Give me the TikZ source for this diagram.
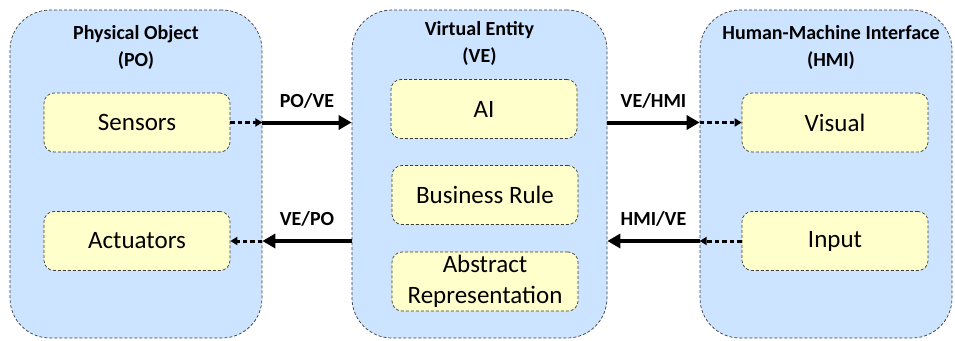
\documentclass[tikz,border=0pt]{standalone}
\usepackage{fontspec}
\setmainfont{Carlito}
\usetikzlibrary{positioning, arrows.meta}
\definecolor{PanelBlue}{RGB}{204, 228, 255}
\definecolor{BlockYellow}{RGB}{255, 255, 204}
\definecolor{EdgeGray}{RGB}{60, 60, 60}

\tikzset{
  panel/.style={draw=EdgeGray, densely dashed, line width=0.7pt, fill=PanelBlue, rounded corners=40pt, minimum height=328pt, inner sep=0pt},
  block/.style={draw=EdgeGray, densely dashed, line width=0.7pt, fill=BlockYellow, rounded corners=10pt, minimum width=186pt, minimum height=59pt, inner sep=0pt, align=center, font=\fontsize{25}{31}\selectfont},
  title/.style={align=center, font=\bfseries\fontsize{20}{27}\selectfont},
  link/.style={line width=4pt, -{Triangle[length=13pt, width=14pt]}},
  hop/.style={line width=3pt, dash pattern=on 4.5pt off 3pt, -{Triangle[length=7pt, width=8pt]}},
  tag/.style={midway, above=9pt, font=\bfseries\fontsize{20}{24}\selectfont}
}

\begin{document}
\begin{tikzpicture}[x=1pt, y=-1pt]
    \useasboundingbox (0, 0) rectangle (955, 340);

    % Panels
    \node[panel, minimum width=252pt] (po) at (136, 174) {};
    \node[panel, minimum width=255pt] (ve) at (479.5, 174) {};
    \node[panel, minimum width=252pt] (hmi) at (826, 174) {};

    % Panel titles
    \node[title] (poTitle) at (136, 47.5) {Physical Object\\(PO)};
    \node[title] (veTitle) at (479.5, 43.5) {Virtual Entity\\(VE)};
    \node[title] (hmiTitle) at (831, 47.5) {Human-Machine Interface\\(HMI)};

    % Blocks
    \node[block] (sensors) at (137, 122.5) {Sensors};
    \node[block] (actuators) at (137, 241) {Actuators};
    \node[block] (ai) at (484, 109) {AI};
    \node[block] (rule) at (485, 195) {Business Rule};
    \node[block] (abstract) at (485, 281.5) {Abstract\\Representation};
    \node[block] (visual) at (835, 122.5) {Visual};
    \node[block] (input) at (835, 241) {Input};

    % PO -> VE
    \draw[hop] (sensors) -- (sensors -| po.east);
    \draw[link] (sensors -| po.east) -- (sensors -| ve.west) node[tag] {PO/VE};

    % VE -> PO
    \draw[link] (actuators -| ve.west) -- (actuators -| po.east) node[tag] {VE/PO};
    \draw[hop] (actuators -| po.east) -- (actuators);

    % VE -> HMI
    \draw[link] (visual -| ve.east) -- (visual -| hmi.west) node[tag] {VE/HMI};
    \draw[hop] (visual -| hmi.west) -- (visual);

    % HMI -> VE
    \draw[hop] (input) -- (input -| hmi.west);
    \draw[link] (input -| hmi.west) -- (input -| ve.east) node[tag] {HMI/VE};
\end{tikzpicture}
\end{document}
